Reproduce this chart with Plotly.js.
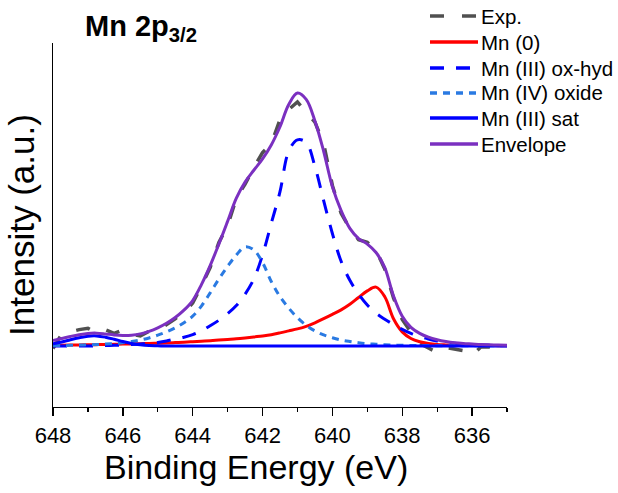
<!DOCTYPE html>
<html>
<head>
<meta charset="utf-8">
<script src="https://cdn.plot.ly/plotly-3.0.1.min.js"></script>
<style>html,body{margin:0;padding:0;background:#fff;}#chart{width:618px;height:493px;}</style>
</head>
<body>
<div id="chart"></div>
<script>
// Binding energy grid (eV)
var energy = [
  648, 647.75, 647.5, 647.25, 647, 646.75, 646.5, 646.25, 646, 645.75, 645.5, 645.25, 645,
  644.75, 644.5, 644.25, 644, 643.75, 643.5, 643.25, 643, 642.75, 642.5, 642.25, 642, 641.75,
  641.5, 641.25, 641, 640.75, 640.5, 640.25, 640, 639.75, 639.5, 639.25, 639, 638.75, 638.5,
  638.25, 638, 637.75, 637.5, 637.25, 637, 636.75, 636.5, 636.25, 636, 635.75, 635.5, 635.25,
  635
];
var expData = [
  -1.0, 4.8, 5.6, 6.5, 7.0, 5.2, 6.4, 5.0, 6.4, 4.6, 4.0, 5.8, 6.2,
  8.3, 10.8, 13.2, 17.0, 23.8, 31.0, 41.0, 47.5, 58.5, 64.0, 70.5, 76.5, 80.0,
  89.5, 93.5, 96.5, 92.5, 88.5, 80.0, 63.5, 52.5, 46.5, 42.0, 41.0, 37.8, 30.5,
  19.0, 10.5, 5.5, 1.0, -0.8, -2.5, -0.6, -1.2, -1.8, -3.6, -0.4, -0.3, -1.2,
  -2.2
];
var mn0 = [
  0.3, 0.35, 0.4, 0.45, 0.5, 0.55, 0.6, 0.7, 0.8, 0.85, 0.95, 1.0, 1.1,
  1.2, 1.35, 1.5, 1.7, 1.9, 2.1, 2.35, 2.6, 2.85, 3.2, 3.6, 4.0, 4.5,
  5.2, 6.0, 6.8, 7.8, 9.2, 10.8, 12.5, 14.3, 16.5, 19.2, 21.8, 23.3, 19.5,
  10.8, 5.6, 3.0, 1.7, 1.0, 0.6, 0.45, 0.35, 0.3, 0.25, 0.2, 0.2, 0.15,
  0.15
];
var mn3OxHyd = [
  0, 0, 0, 0, 0, 0.1, 0.2, 0.3, 0.4, 0.6, 0.8, 1.0, 1.4,
  2.0, 2.8, 3.5, 4.5, 6.0, 8.0, 10.2, 12.8, 16.0, 20.5, 26.5, 36, 48.5,
  61, 77, 81.5, 80.5, 71, 57.5, 44.5, 33.5, 26, 20.5, 16.2, 13, 10.6,
  8.5, 6.6, 5.0, 3.8, 2.8, 2.0, 1.5, 1.1, 0.8, 0.6, 0.45, 0.35, 0.25,
  0.2
];
var mn4Oxide = [
  0.2, 0.2, 0.3, 0.4, 0.5, 0.6, 0.8, 1.0, 1.3, 1.8, 2.4, 3.2, 4.3,
  5.6, 7.2, 9.2, 11.8, 15.8, 21, 26.5, 31.5, 36, 39.2, 38, 33, 25.5,
  19.5, 15, 11.2, 8.2, 6.0, 4.4, 3.3, 2.4, 1.8, 1.3, 0.9, 0.7, 0.5,
  0.4, 0.3, 0.25, 0.2, 0.2, 0.15, 0.1, 0.1, 0.1, 0.1, 0.1, 0.1, 0.1,
  0.1
];
var mn3Sat = [
  0.9, 1.6, 2.5, 3.3, 3.9, 4.0, 3.5, 2.7, 1.8, 1.0, 0.5, 0.2, 0.1,
  0, 0, 0, 0, 0, 0, 0, 0, 0, 0, 0, 0, 0,
  0, 0, 0, 0, 0, 0, 0, 0, 0, 0, 0, 0, 0,
  0, 0, 0, 0, 0, 0, 0, 0, 0, 0, 0, 0, 0,
  0
];
var envelope = [
  2.2, 3.0, 3.8, 4.5, 5.0, 5.1, 4.8, 4.4, 4.2, 4.3, 4.8, 5.8, 7.2,
  9.0, 11.3, 14.2, 18.0, 24.3, 31.8, 40.3, 49.3, 58.5, 64.8, 69.5, 74.0, 79.5,
  86.7, 95.5, 100, 97.5, 89, 77, 63, 53.5, 46.5, 42.5, 40.3, 37, 31,
  19.8, 11.8, 7.4, 5.0, 3.5, 2.5, 1.8, 1.3, 1.0, 0.8, 0.6, 0.5, 0.4,
  0.3
];
var seriesNames = ['Exp.', 'Mn (0)', 'Mn (III) ox-hyd', 'Mn (IV) oxide', 'Mn (III) sat', 'Envelope'];
var xTickVals = [648, 646, 644, 642, 640, 638, 636];
var xTitle = 'Binding Energy (eV)';
var yTitle = 'Intensity (a.u.)';
var chartTitle = '<b>Mn 2p<sub>3/2</sub></b>';

var FONT = 'Liberation Sans, Arial, sans-serif';
var styles = [
  {color: '#505050', dash: '14px,18px', width: 3.5, shape: 'linear'},
  {color: '#FF0000', dash: 'solid', width: 3, shape: 'spline'},
  {color: '#0000FF', dash: '14px,12px', width: 3, shape: 'spline'},
  {color: '#2A7AE2', dash: '7px,6px', width: 3, shape: 'spline'},
  {color: '#0000FF', dash: 'solid', width: 3, shape: 'spline'},
  {color: '#7B30C0', dash: 'solid', width: 3, shape: 'spline'}
];
var ys = [expData, mn0, mn3OxHyd, mn4Oxide, mn3Sat, envelope];

var traces = ys.map(function (y, i) {
  return {
    x: energy, y: y, type: 'scatter', mode: 'lines', name: seriesNames[i],
    line: {color: styles[i].color, dash: styles[i].dash, width: styles[i].width, shape: styles[i].shape},
    showlegend: false, hoverinfo: 'skip'
  };
});

// Manual legend (Origin-like long samples)
var plotL = 53, plotR = 507, plotT = 43, plotB = 407;
var pw = plotR - plotL, ph = plotB - plotT;
function px2x(p) { return (p - plotL) / pw; }
function py2y(p) { return (plotB - p) / ph; }
var legendRows = [16, 42, 68, 93, 118, 144];
var shapes = [], annotations = [];
seriesNames.forEach(function (n, i) {
  shapes.push({type: 'line', xref: 'paper', yref: 'paper',
    x0: px2x(430), x1: px2x(478), y0: py2y(legendRows[i]), y1: py2y(legendRows[i]),
    line: {color: styles[i].color, width: 3.5, dash: styles[i].dash}});
  annotations.push({xref: 'paper', yref: 'paper', x: px2x(479), y: py2y(legendRows[i]),
    xanchor: 'left', yanchor: 'middle', text: n, showarrow: false,
    font: {family: FONT, size: 20.5, color: '#000'}});
});
annotations.push({xref: 'paper', yref: 'paper', x: px2x(83), y: py2y(28),
  xanchor: 'left', yanchor: 'middle', text: chartTitle, showarrow: false,
  font: {family: FONT, size: 29, color: '#000'}});
annotations.push({xref: 'paper', yref: 'paper', x: px2x(256), y: py2y(467),
  xanchor: 'center', yanchor: 'middle', text: xTitle, showarrow: false,
  font: {family: FONT, size: 34, color: '#000'}});

var layout = {
  width: 618, height: 493,
  margin: {l: plotL, r: 618 - plotR, t: plotT, b: 493 - plotB, pad: 0},
  paper_bgcolor: '#fff', plot_bgcolor: '#fff',
  font: {family: FONT, color: '#000'},
  showlegend: false,
  xaxis: {
    range: [648, 635], tickvals: xTickVals, ticktext: xTickVals.map(String),
    ticks: 'outside', ticklen: 8, tickwidth: 1.3, tickcolor: '#000',
    minor: {dtick: 1, tick0: 0, ticks: 'outside', ticklen: 4, tickwidth: 1.3, tickcolor: '#000', showgrid: false},
    showline: true, linecolor: '#000', linewidth: 1.3, showgrid: false, zeroline: false,
    tickfont: {family: FONT, size: 22, color: '#000'},
    automargin: false
  },
  yaxis: {
    range: [-24.1, 119.8], showticklabels: false, ticks: '',
    showline: true, linecolor: '#000', linewidth: 1.3, showgrid: false, zeroline: false,
    title: {text: yTitle, font: {family: FONT, size: 35, color: '#000'}, standoff: 6},
    automargin: false
  },
  shapes: shapes,
  annotations: annotations
};

Plotly.newPlot('chart', traces, layout, {displayModeBar: false, staticPlot: true});
</script>
</body>
</html>
